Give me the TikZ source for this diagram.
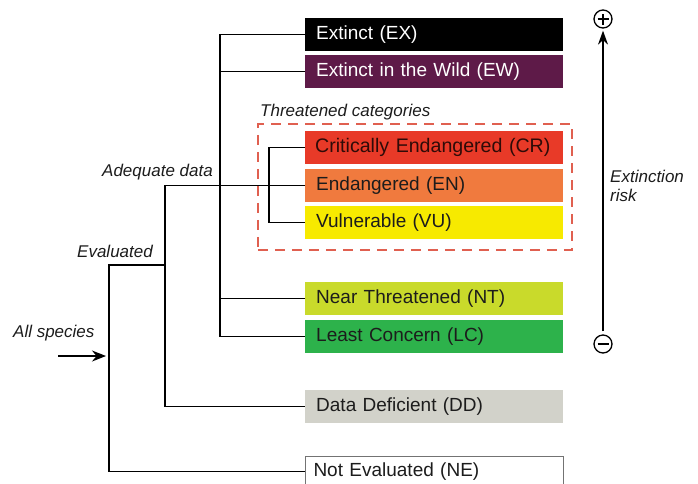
\documentclass[tikz,border=0pt]{standalone}
\usepackage{fontspec}
\setmainfont{Liberation Sans}
\usetikzlibrary{arrows.meta}
\definecolor{cEW}{HTML}{5E1A48}
\definecolor{cCR}{HTML}{E83A28}
\definecolor{cEN}{HTML}{F07A3E}
\definecolor{cVU}{HTML}{F7EA00}
\definecolor{cNT}{HTML}{C9DA2B}
\definecolor{cLC}{HTML}{2DB24B}
\definecolor{cDD}{HTML}{D2D2CA}
\definecolor{cDash}{HTML}{E06050}
\definecolor{cTxt}{HTML}{1C1C1C}
\begin{document}
\begin{tikzpicture}[x=1pt,y=-1pt,
  catbox/.style={anchor=north west, minimum height=32.5pt, text width=236pt, inner xsep=11pt, inner ysep=0pt, align=left, font=\fontsize{19}{22}\selectfont, text=cTxt},
  tree/.style={line width=1.4pt, black},
  lbl/.style={font=\fontsize{17}{19}\selectfont\itshape, inner sep=0pt, text=cTxt}]
\useasboundingbox (0,0) rectangle (698,483);
\begin{scope}
\clip (0,0) rectangle (698,483);
% boxes
\node[catbox, fill=black, text=white] (ex) at (305,18) {Extinct (EX)};
\node[catbox, fill=cEW, text=white] (ew) at (305,55) {Extinct in the Wild (EW)};
\node[catbox, fill=cCR, text={black!80!cCR}, inner xsep=10pt, text width=238pt, font=\fontsize{19.6}{22}\selectfont] (cr) at (305,131) {\mbox{Critically Endangered (CR)}};
\node[catbox, fill=cEN] (en) at (305,169) {Endangered (EN)};
\node[catbox, fill=cVU] (vu) at (305,206) {Vulnerable (VU)};
\node[catbox, fill=cNT] (nt) at (305,282) {Near Threatened (NT)};
\node[catbox, fill=cLC] (lc) at (305,320) {Least Concern (LC)};
\node[catbox, fill=cDD] (dd) at (305,390) {Data Deficient (DD)};
\node[catbox, fill=white, draw=black!55, line width=1pt, inner xsep=8pt, text width=242pt, minimum height=30pt] (ne) at (305,456) {Not Evaluated (NE)};
\end{scope}
% threatened frame
\node[draw=cDash, dashed, dash pattern=on 10pt off 7pt, line width=1.6pt, minimum width=314pt, minimum height=126pt, anchor=north west, inner sep=0pt] (thr) at (257,123) {};
\node[lbl, anchor=west] (thrl) at (260,112) {Threatened categories};
% tree
\coordinate (j1) at (220,0);
\coordinate (j2) at (269,0);
\coordinate (j3) at (165,0);
\coordinate (j4) at (109,0);
\coordinate (ev) at (165,265);
\draw[tree] (ex.west) -| (j1 |- lc.west) -- (lc.west);
\draw[tree] (ew.west) -- (j1 |- ew.west);
\draw[tree] (nt.west) -- (j1 |- nt.west);
\draw[tree] (cr.west) -| (j2 |- vu.west) -- (vu.west);
\draw[tree] (en.west) -| (j3 |- dd.west) -- (dd.west);
\draw[tree] (ev) -| (j4 |- ne.west) -- (ne.west);
% labels
\node[lbl, anchor=east] (adq) at (213,172) {Adequate data};
\node[lbl, anchor=east] (evl) at (153,251) {Evaluated};
\node[lbl, anchor=west] (alls) at (13,333) {All species};
\coordinate (as) at (58,356);
\coordinate (ae) at (106,356);
\draw[line width=1.4pt, -{Stealth[length=14pt,width=11pt]}] (as) -- (ae);
% extinction risk axis
\node[circle, draw, line width=1.3pt, minimum size=18pt, inner sep=0pt] (plus) at (603,19) {};
\draw[line width=1.5pt] ([xshift=-5.5pt]plus.center) -- ([xshift=5.5pt]plus.center)
  ([yshift=-5.5pt]plus.center) -- ([yshift=5.5pt]plus.center);
\node[circle, draw, line width=1.3pt, minimum size=18pt, inner sep=0pt] (minus) at (603,344) {};
\draw[line width=1.5pt] ([xshift=-5.5pt]minus.center) -- ([xshift=5.5pt]minus.center);
\draw[line width=1.3pt, -{Stealth[length=14pt,width=10pt]}, shorten <=3pt, shorten >=2pt] (minus.north) -- (plus.south);
\node[lbl, anchor=west, align=left] (risk) at (610,186) {Extinction\\risk};
\end{tikzpicture}
\end{document}
